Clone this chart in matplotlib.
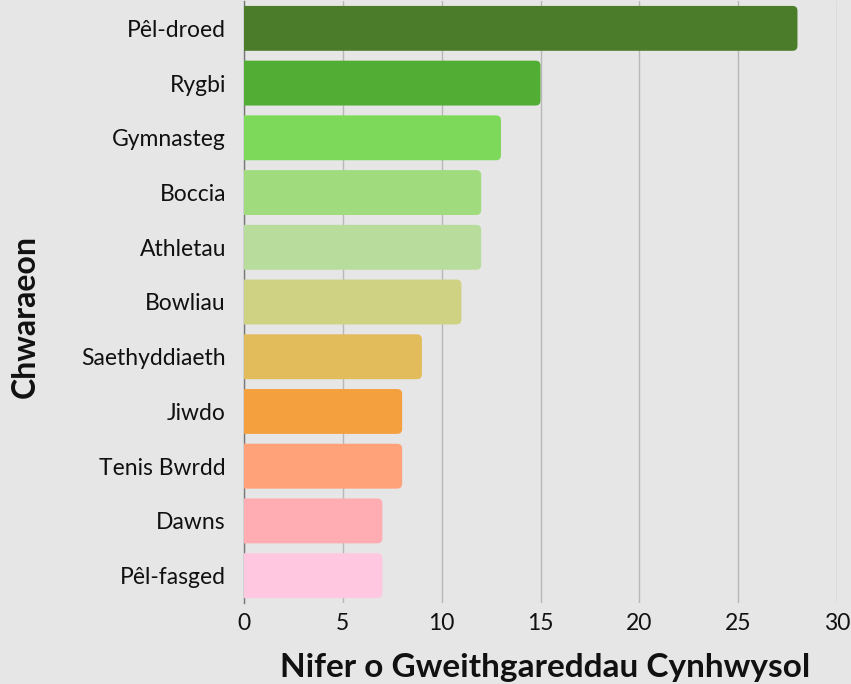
import numpy as np
import matplotlib
matplotlib.use('Agg')
from matplotlib import pyplot as plt
from matplotlib.patches import FancyBboxPatch

plt.rcParams['font.family'] = ['Lato', 'DejaVu Sans']

# data
sports = ['Pêl-droed', 'Rygbi', 'Gymnasteg', 'Boccia', 'Athletau', 'Bowliau',
          'Saethyddiaeth', 'Jiwdo', 'Tenis Bwrdd', 'Dawns', 'Pêl-fasged']
counts = [28, 15, 13, 12, 12, 11, 9, 8, 8, 7, 7]
colors = ['#4a7c29', '#52ad34', '#7dd95a', '#a0dc7e', '#b8dc9b', '#cfd282',
          '#e2bb5b', '#f5a03f', '#ffa27a', '#ffadb2', '#ffc8e0']

fig = plt.figure(figsize=(8.51, 6.84), dpi=100, facecolor='#e6e6e6')
ax = fig.add_axes([244/851, 1 - 603/684, (837 - 244)/851, 602/684])
ax.set_facecolor('none')

y = np.arange(len(sports))
bars = ax.barh(y, counts, height=0.82, color=colors, zorder=3)

# swap plain bars for ones with rounded right corners
for b, c in zip(bars, colors):
    b.set_visible(False)
    x0, y0 = b.get_x(), b.get_y()
    w, h = b.get_width(), b.get_height()
    p = FancyBboxPatch((x0 - 1, y0), w + 1, h,
                       boxstyle='round,pad=0,rounding_size=0.25',
                       mutation_aspect=0.36, facecolor=c, edgecolor='none',
                       zorder=3)
    ax.add_patch(p)

ax.set_xlim(0, 30)
ax.set_ylim(len(sports) - 0.5, -0.5)
ax.set_yticks(y, sports)
ax.set_xticks(np.arange(0, 31, 5))
ax.tick_params(axis='both', length=0, labelsize=16.5, colors='#111111')
ax.tick_params(axis='y', pad=13)
ax.tick_params(axis='x', pad=7)
ax.grid(axis='x', color='#b8b8b8', linewidth=1, zorder=0)
for s in ['top', 'right', 'bottom']:
    ax.spines[s].set_visible(False)
ax.spines['left'].set_color('#777777')
ax.spines['left'].set_linewidth(1)

fig.text(545/851, 1 - 668/684, 'Nifer o Gweithgareddau Cynhwysol', fontsize=24,
         fontweight='bold', color='#111111', ha='center', va='center')
fig.text(25/851, 1 - 316/684, 'Chwaraeon', fontsize=23, fontweight='bold',
         color='#111111', ha='center', va='center', rotation=90)

fig.savefig('out.png', dpi=100, facecolor=fig.get_facecolor())
